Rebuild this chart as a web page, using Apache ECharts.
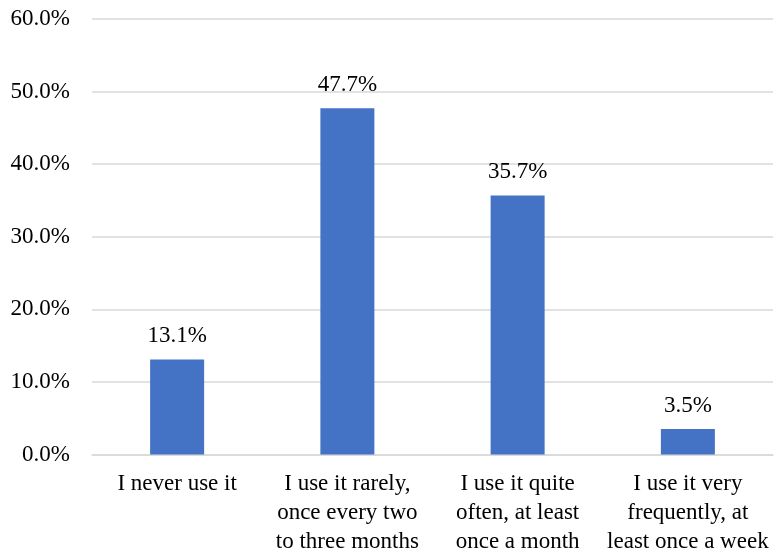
<!DOCTYPE html>
<html><head><meta charset="utf-8">
<script src="https://cdn.jsdelivr.net/npm/echarts@6/dist/echarts.min.js"></script>
<style>html,body{margin:0;padding:0;background:#fff}#c{width:776px;height:551px}</style>
</head><body><div id="c"></div>
<script>
const categories = ["I never use it", "I use it rarely,\nonce every two\nto three months", "I use it quite\noften, at least\nonce a month", "I use it very\nfrequently, at\nleast once a week"];
const values = [13.1, 47.7, 35.7, 3.5];
const yTicks = {min: 0, max: 60, interval: 10};
const font = '"Liberation Serif","Times New Roman",serif';
const chart = echarts.init(document.getElementById('c'));
chart.setOption({
  animation: false,
  grid: {left: 92, right: 3, top: 19, bottom: 96.5, containLabel: false, outerBoundsMode: 'none'},
  xAxis: {
    type: 'category', data: categories,
    axisLine: {lineStyle: {color: '#d9d9d9', width: 1.5}},
    axisTick: {show: false},
    axisLabel: {interval: 0, color: '#000', fontFamily: font, fontSize: 23, lineHeight: 29, margin: 15}
  },
  yAxis: {
    type: 'value', min: yTicks.min, max: yTicks.max, interval: yTicks.interval,
    axisLine: {show: false}, axisTick: {show: false},
    splitLine: {lineStyle: {color: '#d9d9d9', width: 1.5}},
    axisLabel: {color: '#000', fontFamily: font, fontSize: 23, margin: 22, formatter: v => v.toFixed(1) + '%'}
  },
  series: [{
    type: 'bar', data: values, barWidth: 54,
    itemStyle: {color: '#4472C4'},
    label: {show: true, position: 'top', distance: 12, color: '#000', fontFamily: font, fontSize: 23, formatter: p => p.value.toFixed(1) + '%'}
  }]
});
</script></body></html>
